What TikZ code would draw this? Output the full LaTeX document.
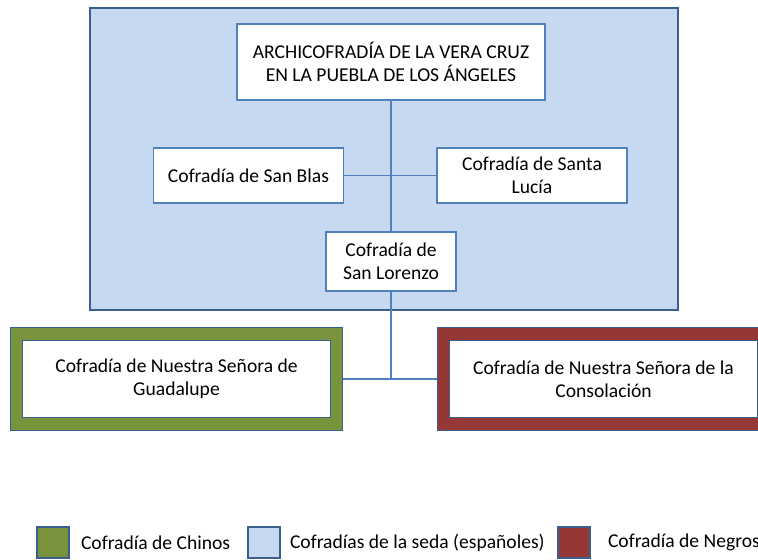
\documentclass[tikz,border=0pt]{standalone}
\usepackage{fontspec}
\setmainfont{Carlito}
\usepackage{tikz}
\usetikzlibrary{positioning,backgrounds}
\definecolor{seda}{HTML}{C6D9F1}
\definecolor{borde}{HTML}{4F81BD}
\definecolor{oscuro}{HTML}{3A5F8E}
\definecolor{chinos}{HTML}{77933C}
\definecolor{negros}{HTML}{953735}
\tikzset{
  caja/.style={rectangle,draw=borde,line width=0.8pt,fill=white,align=center,inner sep=0pt},
  marco/.style={rectangle,draw=oscuro,line width=0.5pt,double distance=5.6pt,fill=white,
    align=center,inner sep=0pt,minimum width=160pt,minimum height=45pt},
  linea/.style={draw=borde,line width=0.8pt},
  muestra/.style={rectangle,draw=oscuro,line width=0.6pt,minimum width=16pt,minimum height=15.5pt,inner sep=0pt},
  leyenda/.style={inner sep=0pt,anchor=west}
}
\begin{document}
\begin{tikzpicture}[x=0.5pt, y=-0.5pt, font=\fontsize{9.8pt}{11.6pt}\selectfont]
   \useasboundingbox (0,0) rectangle (758,559);
   \clip (0,0) rectangle (758,559);
   % nodes of the hierarchy
   \begin{scope}[every node/.style={caja}]
    \node (arch) [minimum width=154pt, minimum height=38pt] at (391,62)
      {ARCHICOFRADÍA DE LA VERA CRUZ\\EN LA PUEBLA DE LOS ÁNGELES};
    \node (blas) [minimum width=95pt, minimum height=27.5pt] at (248.5,175.5) {Cofradía de San Blas};
    \node (lucia) [minimum width=95pt, minimum height=27.5pt] at (532,175.5) {Cofradía de Santa\\Lucía};
    \node (lorenzo) [minimum width=65pt, minimum height=29.5pt] at (391,261.5) {Cofradía de\\San Lorenzo};
   \end{scope}
   \node (guada) [marco, double=chinos] at (176.5,379)
     {Cofradía de Nuestra Señora de\\Guadalupe};
   \node (consol) [marco, double=negros] at (603.5,379)
     {Cofradía de Nuestra Señora de la\\Consolación};
   \coordinate (union) at (391,379);
   % background and connectors
   \begin{scope}[on background layer]
    \draw[draw=oscuro, line width=0.8pt, fill=seda] (90,8) rectangle (678,310);
    \draw[linea] (arch) -- (lorenzo);
    \draw[linea] (lorenzo) -- (union);
    \draw[linea] (blas) -- (lucia);
    \draw[linea] (guada) -- (consol);
   \end{scope}
   % legend
   \node (mchinos) [muestra, fill=chinos] at (53,542.5) {};
   \node (mseda) [muestra, fill=seda] at (264,542.5) {};
   \node (mnegros) [muestra, fill=negros] at (574,542.5) {};
   \node (tchinos) [leyenda, right=5.5pt of mchinos] {Cofradía de Chinos};
   \node (tseda) [leyenda, right=4.5pt of mseda] {Cofradías de la seda (españoles)};
   \node (tnegros) [leyenda, right=8.5pt of mnegros] {Cofradía de Negros};
\end{tikzpicture}
\end{document}
